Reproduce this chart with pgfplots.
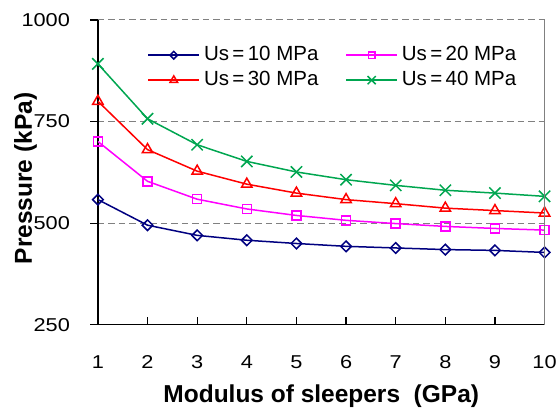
\documentclass[border=0pt]{standalone}
\usepackage{fontspec}
\setmainfont{Liberation Sans}
\newfontfamily\tickfont[FakeStretch=1.17]{Liberation Sans}
\usepackage{pgfplots}
\pgfplotsset{compat=1.18}
\definecolor{us10}{HTML}{000080}
\definecolor{us20}{HTML}{FF00FF}
\definecolor{us30}{HTML}{FF0000}
\definecolor{us40}{HTML}{00A650}

\begin{document}
\begin{tikzpicture}
\begin{axis}[
	scale only axis,
	width=447pt, height=305pt,
	xmin=1, xmax=10,
	ymin=250, ymax=1000,
	xtick={1,...,10},
	ytick={250,500,750,1000},
	axis x line*=bottom,
	axis y line*=left,
	axis line style={line width=1.4pt, -},
	xtick align=inside,
	ytick align=outside,
	major tick length=7.5pt,
	tick style={line width=1.3pt, black},
	ymajorgrids,
	grid style={gray, line width=1pt, dash pattern=on 6.5pt off 4pt},
	/pgf/number format/assume math mode=true,
	/pgf/number format/1000 sep={},
	tick label style={font=\tickfont\fontsize{18.6}{20}\selectfont},
	xticklabel style={yshift=-27pt},
	yticklabel style={xshift=-17pt},
	xlabel={Modulus of sleepers\ \ (GPa)},
	ylabel={Pressure (kPa)},
	label style={font=\bfseries\fontsize{24.5}{26}\selectfont},
	xlabel style={at={(axis description cs:0.5,0)}, anchor=base, yshift=-77.7pt},
	ylabel style={at={(axis description cs:-0.1477,0.48)}, anchor=base},
	legend columns=2,
	legend style={
		at={(rel axis cs:0.104,0.927)}, anchor=north west,
		draw=none, fill=none,
		font=\fontsize{20.5}{22}\selectfont,
		nodes={inner sep=1pt, text height=15pt, text depth=4.5pt},
		row sep=3.5pt,
		/tikz/every odd column/.append style={column sep=3pt},
		/tikz/every even column/.append style={column sep=26pt},
	},
	legend image code/.code={
		\draw[mark repeat=2,mark phase=2, /tikz/every mark/.append style={scale=0.72}]
			plot coordinates {(0pt,0pt) (25.5pt,0pt) (51pt,0pt)};
	},
	every axis plot/.append style={line width=1.5pt},
	after end axis/.code={
		\draw[gray, line width=1pt] (rel axis cs:1,0) -- (rel axis cs:1,1);
		\path (rel axis cs:-0.2192,-0.2754) rectangle (rel axis cs:1.0336,1.0656);
	},
]
\addplot[us10, mark=square, mark size=3.75pt, mark options={solid, rotate=45, fill=white}] coordinates {
	(1,558) (2,495) (3,470) (4,458) (5,450) (6,443) (7,439) (8,435) (9,433) (10,428)};
\addplot[us20, mark=square, mark size=4.5pt, mark options={solid, fill=white}] coordinates {
	(1,701) (2,603) (3,559) (4,535) (5,519) (6,507) (7,499) (8,492) (9,487) (10,483)};
\addplot[us30, mark=triangle, mark size=6pt, mark options={solid, fill=white}] coordinates {
	(1,800) (2,681) (3,628) (4,596) (5,574) (6,558) (7,548) (8,537) (9,531) (10,525)};
\addplot[us40, mark=x, mark size=8pt, mark options={solid}] coordinates {
	(1,892) (2,757) (3,693) (4,652) (5,626) (6,607) (7,593) (8,581) (9,574) (10,566)};
\legend{Us\,=\,10 MPa, Us\,=\,20 MPa, Us\,=\,30 MPa, Us\,=\,40 MPa}
\end{axis}
\end{tikzpicture}
\end{document}
